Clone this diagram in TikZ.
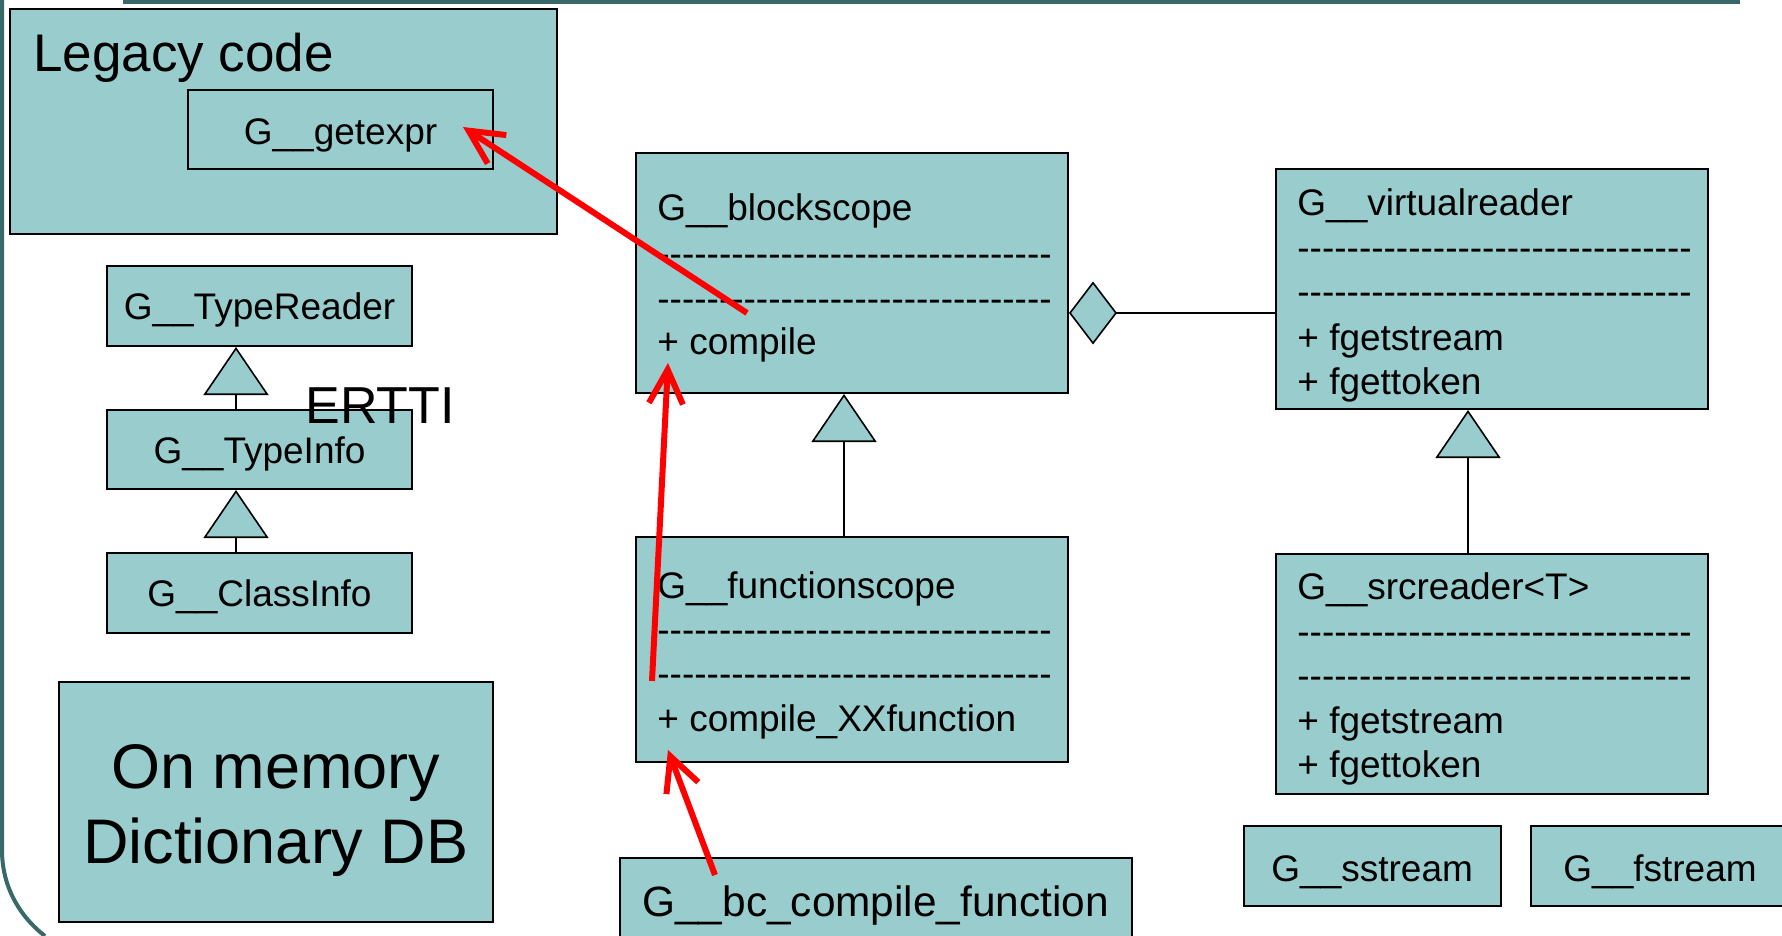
\documentclass[tikz,border=0pt]{standalone}
\usepackage{fontspec}
\setmainfont{Liberation Sans}
\newfontfamily\sepfont{Liberation Sans}
\usetikzlibrary{arrows.meta,fit}
\definecolor{boxfill}{RGB}{153,204,204}
\definecolor{frameteal}{RGB}{56,104,104}
\definecolor{callred}{RGB}{255,0,0}
% a row of hyphens used as compartment separator in the class boxes
\newcommand\hy{-\kern0pt}
\newcommand\hyfour{\hy\hy\hy\hy}
\newcommand\sepline{{\sepfont\hyfour\hyfour\hyfour\hyfour\hyfour\hyfour\hyfour\hyfour}}

\begin{document}
\begin{tikzpicture}[x=0.5pt,y=-0.5pt,
  box/.style={draw=black, line width=1pt, fill=boxfill, inner sep=0pt},
  txt/.style={inner sep=0pt, anchor=base west, font=\fontsize{18.5}{22}\selectfont},
  ctxt/.style={txt, anchor=base},
  bigtxt/.style={inner sep=0pt, anchor=base west, font=\fontsize{26.5}{30}\selectfont},
  dbtxt/.style={inner sep=0pt, anchor=base, font=\fontsize{31.5}{36}\selectfont},
  isa/.style={draw=black, line width=0.8pt,
    -{Triangle[length=24pt,width=32.5pt,fill=boxfill]}},
  aggr/.style={draw=black, line width=0.8pt,
    -{Diamond[length=24pt,width=31.5pt,fill=boxfill]}},
  callarrow/.style={draw=callred, line width=3pt, line join=round,
    -{Straight Barb[length=17pt,width=17pt]}},
  frame/.style={draw=frameteal, line width=2pt}
]
\useasboundingbox (0,0) rectangle (1782,936);
\clip (0,0) rectangle (1782,936);

% slide frame
\draw[frame] (123,2) -- (1740,2);
\draw[frame] (2,-2) -- (2,850) .. controls (2,885) and (18,915) .. (45,936);

% legacy code group
\node[box, fit={(10,9) (557,234)}] (legacy) {};
\node[bigtxt] (legacyt) at (33,72) {Legacy code};
\node[box, fit={(188,90) (493,169)}] (getexpr) {};
\node[ctxt] (getexprt) at (340.5,145) {G\_\_getexpr};

% ERTTI hierarchy
\node[box, fit={(107,266) (412,346)}] (treader) {};
\node[ctxt] (treadert) at (259.5,319) {G\_\_TypeReader};
\node[box, fit={(107,410) (412,489)}] (tinfo) {};
\node[ctxt] (tinfot) at (259.5,463) {G\_\_TypeInfo};
\node[box, fit={(107,553) (412,633)}] (cinfo) {};
\node[ctxt] (cinfot) at (259.5,606) {G\_\_ClassInfo};
\draw[isa] (tinfo.north -| 236,0) -- (treader.south -| 236,0);
\draw[isa] (cinfo.north -| 236,0) -- (tinfo.south -| 236,0);
\node[bigtxt, font=\fontsize{26}{30}\selectfont] (ertti) at (305,423) {ERTTI};

% dictionary database
\node[box, fit={(59,682) (493,922)}] (dict) {};
\node[dbtxt] (dict1) at (276,788) {On memory};
\node[dbtxt] (dict2) at (276,863) {Dictionary DB};

% G__blockscope
\node[box, fit={(636,153) (1068,393)}] (bs) {};
\node[txt] (bs1) at (657,221) {G\_\_blockscope};
\node[txt] (bs2) at (657,266) {\sepline};
\node[txt] (bs3) at (657,311) {\sepline};
\node[txt] (bs4) at (657,354) {+ compile};

% G__functionscope
\node[box, fit={(636,537) (1068,762)}] (fs) {};
\node[txt] (fs1) at (657,598) {G\_\_functionscope};
\node[txt] (fs2) at (657,642) {\sepline};
\node[txt] (fs3) at (657,686) {\sepline};
\node[txt] (fs4) at (657,731) {+ compile\_XXfunction};
\draw[isa] (fs.north -| 844,0) -- (bs.south -| 844,0);

% G__virtualreader
\node[box, fit={(1276,169) (1708,409)}] (vr) {};
\node[txt] (vr1) at (1297,216) {G\_\_virtualreader};
\node[txt] (vr2) at (1297,261) {\sepline};
\node[txt] (vr3) at (1297,304) {\sepline};
\node[txt] (vr4) at (1297,350) {+ fgetstream};
\node[txt] (vr5) at (1297,394) {+ fgettoken};
\draw[aggr] (vr.west |- 0,313) -- (bs.east |- 0,313);

% G__srcreader<T>
\node[box, fit={(1276,554) (1708,794)}] (sr) {};
\node[txt] (sr1) at (1297,599) {G\_\_srcreader<T>};
\node[txt] (sr2) at (1297,644) {\sepline};
\node[txt] (sr3) at (1297,688) {\sepline};
\node[txt] (sr4) at (1297,733) {+ fgetstream};
\node[txt] (sr5) at (1297,777) {+ fgettoken};
\draw[isa] (sr.north -| 1468,0) -- (vr.south -| 1468,0);

% stream classes
\node[box, fit={(1244,826) (1501,906)}] (ss) {};
\node[txt] (sst) at (1271,881) {G\_\_sstream};
\node[box, fit={(1531,826) (1800,906)}] (fst) {};
\node[txt] (fstt) at (1563,881) {G\_\_fstream};

% bytecode compiler entry
\node[box, fit={(620,858) (1132,960)}] (bc) {};
\node[txt, font=\fontsize{21.2}{25}\selectfont] (bct) at (642,916) {G\_\_bc\_compile\_function};

% call flow
\coordinate (c1s) at (747,313);
\coordinate (c1e) at (463,127);
\coordinate (c2s) at (652,681);
\coordinate (c2e) at (668,363);
\coordinate (c3s) at (715,875);
\coordinate (c3e) at (668,750);
\draw[callarrow] (c1s) -- (c1e);
\draw[callarrow] (c2s) -- (c2e);
\draw[callarrow] (c3s) -- (c3e);
\end{tikzpicture}
\end{document}
